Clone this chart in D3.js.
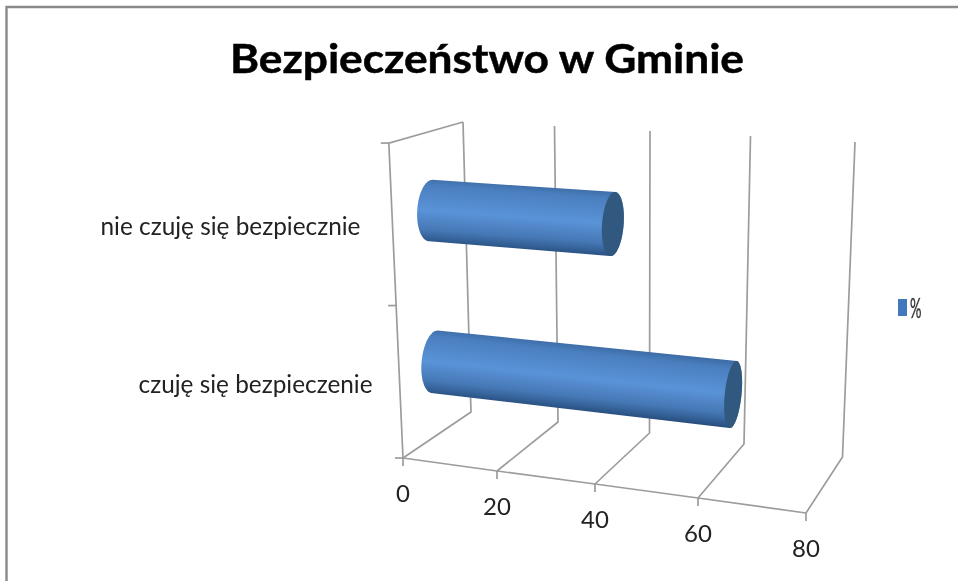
<!DOCTYPE html>
<html lang="pl"><head><meta charset="utf-8">
<script src="https://cdn.jsdelivr.net/npm/d3@7"></script>
<style>
html,body{margin:0;padding:0;background:#fff}
svg{display:block;filter:blur(.45px)}
text{font-family:Lato,"Open Sans",sans-serif}
</style></head><body><div id="chart"></div>
<script>
// ---- data
const categories = ["czuję się bezpieczenie", "nie czuję się bezpiecznie"];
const seriesName = "%";
const seriesValues = [62, 38];
const valueTicks = [0, 20, 40, 60, 80];
const chartTitle = "Bezpieczeństwo w Gminie";

// ---- layout: perspective frame of the 3-D plot
const W = 958, H = 581;
const frontX = d3.scaleLinear().domain(valueTicks).range([403, 497, 595, 698, 806]);
const frontY = d3.scaleLinear().domain(valueTicks).range([458, 471, 484, 498, 513]);
const backX  = d3.scaleLinear().domain(valueTicks).range([471, 558, 649.5, 744, 842.5]);
const backY  = d3.scaleLinear().domain(valueTicks).range([412, 422, 433, 444, 457]);
const topX   = d3.scaleLinear().domain(valueTicks).range([463, 554.5, 650, 750.5, 855]);
const topY   = d3.scaleLinear().domain(valueTicks).range([122, 126, 131, 136, 142]);
const depthGrow = d3.scaleLinear().domain([0, 1]).range([1.086, 1]);
const depthShear = d3.scaleLinear().domain([0, 0.5, 1]).range([-5.5, 0, 0]);
const catPos = d3.scaleLinear().domain([0, 1, 2]).range([0, 0.484, 1]);

function proj(v, d, h) {
  const bx = frontX(v) + (backX(v) - frontX(v)) * d;
  const by = frontY(v) + (backY(v) - frontY(v)) * d;
  const k = depthGrow(d);
  return [bx + ((topX(v) - backX(v)) * k + depthShear(d)) * h, by + (topY(v) - backY(v)) * k * h];
}

const svg = d3.select("#chart").append("svg").attr("width", W).attr("height", H);
svg.append("rect").attr("width", W).attr("height", H).attr("fill", "#fff");
svg.append("path").attr("d", d3.line()([[6.5, H], [6.5, 7], [W, 7]]))
  .attr("fill", "none").attr("stroke", "#8a8a8a").attr("stroke-width", 2.4);

svg.append("text").attr("x", 487).attr("y", 73).attr("text-anchor", "middle")
  .attr("font-size", 41).attr("font-weight", 700).attr("fill", "#000")
  .attr("stroke", "#000").attr("stroke-width", 0.5)
  .attr("textLength", 514).attr("lengthAdjust", "spacingAndGlyphs").text(chartTitle);

// ---- frame
const grid = svg.append("g").attr("fill", "none").attr("stroke", "#9c9c9c").attr("stroke-width", 1.7);
const line = d3.line();
valueTicks.forEach(v => {
  grid.append("path").attr("d", line([proj(v, 0, 0), proj(v, 1, 0), [topX(v), topY(v)]]));
  const f = proj(v, 0, 0);
  grid.append("path").attr("d", line([f, [f[0], f[1] + 8]]));
});
grid.append("path").attr("d", line(valueTicks.map(v => proj(v, 0, 0))));
const leftTop = proj(0, 0, 1);
grid.append("path").attr("d", line([proj(0, 0, 0), leftTop, [topX(0), topY(0)]]));
d3.range(categories.length + 1).forEach(i => {
  const p = proj(0, 0, catPos(i));
  grid.append("path").attr("d", line([[p[0] - 8, p[1]], p]));
});

// ---- tick labels
svg.selectAll(".vt").data(valueTicks).join("text").attr("class", "vt")
  .attr("x", v => proj(v, 0, 0)[0]).attr("y", v => proj(v, 0, 0)[1] + 44)
  .attr("text-anchor", "middle").attr("font-size", 24).attr("fill", "#222").text(d => d);

const labelWidths = [234, 260];
svg.selectAll(".ct").data(categories).join("text").attr("class", "ct")
  .attr("x", (c, i) => proj(0, 0, catPos(i + 0.5))[0] - 27 - 5 * i)
  .attr("y", (c, i) => proj(0, 0, catPos(i + 0.5))[1] + 11)
  .attr("text-anchor", "end").attr("font-size", 25).attr("fill", "#222")
  .attr("textLength", (c, i) => labelWidths[i]).attr("lengthAdjust", "spacingAndGlyphs").text(d => d);

// ---- cylinders
const defs = svg.append("defs");
const R_H = 0.1, R_D = 0.2, MID = 0.5, HALF = 33;
seriesValues.forEach((val, i) => {
  const h = catPos(i + 0.5);
  const ring = v => {
    const c = proj(v, MID, h), u = proj(v, MID, h + R_H), d = proj(v, MID + R_D, h);
    return d3.range(0, 72).map(k => {
      const t = k / 72 * 2 * Math.PI;
      return [c[0] + (u[0] - c[0]) * Math.cos(t) + (d[0] - c[0]) * Math.sin(t),
              c[1] + (u[1] - c[1]) * Math.cos(t) + (d[1] - c[1]) * Math.sin(t)];
    });
  };
  const a = ring(0), b = ring(val);
  const hull = d3.polygonHull(a.concat(b));
  const p0 = proj(0, MID, h), p1 = proj(val, MID, h);
  const dx = p1[0] - p0[0], dy = p1[1] - p0[1], len = Math.hypot(dx, dy);
  const nx = -dy / len, ny = dx / len, cx = (p0[0] + p1[0]) / 2, cy = (p0[1] + p1[1]) / 2;
  const g = defs.append("linearGradient").attr("id", "cyl" + i).attr("gradientUnits", "userSpaceOnUse")
    .attr("x1", cx - nx * HALF).attr("y1", cy - ny * HALF).attr("x2", cx + nx * HALF).attr("y2", cy + ny * HALF);
  [[0, "#3d6ca6"], [0.12, "#4a7fbf"], [0.5, "#5a93d8"], [0.8, "#4577b4"], [0.95, "#2f5a8e"], [1, "#294e7e"]]
    .forEach(s => g.append("stop").attr("offset", s[0]).attr("stop-color", s[1]));
  svg.append("path").attr("d", "M" + hull.join("L") + "Z").attr("fill", `url(#cyl${i})`);
  svg.append("path").attr("d", "M" + b.join("L") + "Z").attr("fill", "#31587f");
});

// ---- legend
svg.append("rect").attr("x", 898).attr("y", 299).attr("width", 9).attr("height", 17).attr("fill", "#4279bd");
svg.append("text").attr("x", 910).attr("y", 318).attr("font-size", 27).attr("fill", "#333")
  .attr("stroke", "#333").attr("stroke-width", 0.4)
  .attr("textLength", 11.5).attr("lengthAdjust", "spacingAndGlyphs").text(seriesName);
</script></body></html>
